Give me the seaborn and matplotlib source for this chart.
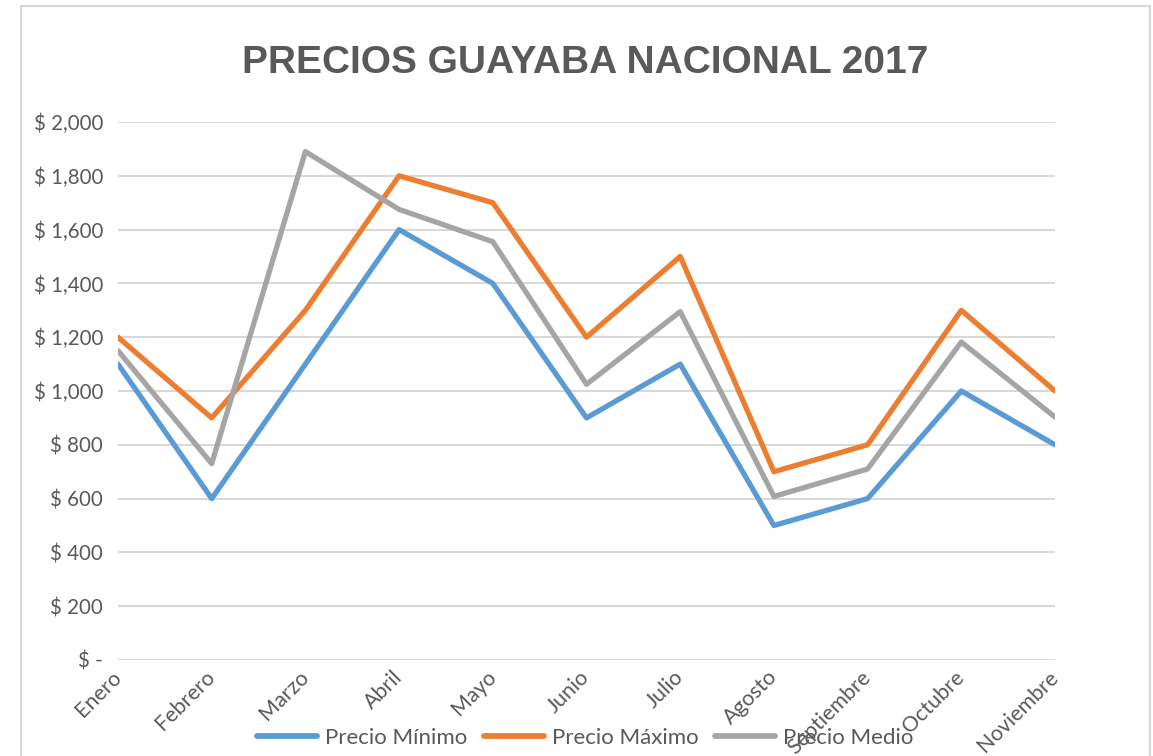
import matplotlib
matplotlib.use("Agg")
import matplotlib.pyplot as plt
import matplotlib.transforms as mtransforms
import seaborn as sns
import pandas as pd
from matplotlib.patches import Rectangle
from matplotlib.lines import Line2D
from matplotlib.ticker import FuncFormatter

meses = ["Enero", "Febrero", "Marzo", "Abril", "Mayo", "Junio", "Julio",
         "Agosto", "Septiembre", "Octubre", "Noviembre"]
precio_minimo = [1100, 600, 1100, 1600, 1400, 900, 1100, 500, 600, 1000, 800]
precio_maximo = [1200, 900, 1300, 1800, 1700, 1200, 1500, 700, 800, 1300, 1000]
precio_medio = [1150, 730, 1890, 1675, 1555, 1025, 1295, 608, 710, 1182, 903]
series_names = ["Precio Mínimo", "Precio Máximo", "Precio Medio"]
colors = ["#5B9BD5", "#ED7D31", "#A5A5A5"]
title = "PRECIOS GUAYABA NACIONAL 2017"

rows = []
for name, vals in zip(series_names, [precio_minimo, precio_maximo, precio_medio]):
    for i, (m, v) in enumerate(zip(meses, vals)):
        rows.append({"idx": i, "Mes": m, "Serie": name, "Precio": v})
df = pd.DataFrame(rows)

sns.set_style("white")
plt.rcParams["font.family"] = ["Lato", "DejaVu Sans"]

fig = plt.figure(figsize=(11.53, 7.56), dpi=100)
ax = fig.add_axes([118/1153, 1-660/756, (1055-118)/1153, (660-122)/756])

sns.lineplot(data=df, x="idx", y="Precio", hue="Serie", hue_order=series_names,
             palette=colors, linewidth=3.8, ax=ax, legend=False, sort=False)

ax.set_xlim(0, len(meses)-1)
ax.set_ylim(0, 2000)
ax.set_yticks(range(0, 2001, 200))
ax.yaxis.set_major_formatter(FuncFormatter(lambda v, p: "$ -" if v == 0 else f"$ {int(v):,}"))
ax.set_xticks(range(len(meses)))
ax.set_xticklabels(meses, rotation=45, ha="right", rotation_mode="anchor")
ax.tick_params(axis="both", length=0, colors="#595959")
ax.tick_params(axis="y", pad=10.8, labelsize=14.8)
ax.tick_params(axis="x", pad=5, labelsize=15.5)
offset = mtransforms.ScaledTranslation(-7/100, 0, fig.dpi_scale_trans)
for lbl in ax.get_xticklabels():
    lbl.set_transform(lbl.get_transform() + offset)
ax.set_xlabel("")
ax.set_ylabel("")
ax.grid(axis="y", color="#D9D9D9", linewidth=1.5)
ax.set_axisbelow(True)
for s in ax.spines.values():
    s.set_visible(False)

fig.text(585/1153, 1-63/756, title, ha="center", va="center",
         fontsize=28, fontweight="bold", color="#595959", family="Liberation Sans")

handles = [Line2D([0], [0], color=c, lw=4.2) for c in colors]
fig.legend(handles, series_names, loc="center", bbox_to_anchor=(585/1153, 1-738/756),
           ncol=3, frameon=False, fontsize=16, handlelength=2.7, handletextpad=0.35,
           columnspacing=0.75, labelcolor="#595959")

fig.add_artist(Rectangle((21/1153, -0.05), (1150-21)/1153, 1-6/756+0.05,
                         transform=fig.transFigure, fill=False,
                         edgecolor="#D9D9D9", linewidth=1.5))

fig.savefig("out.png", dpi=100)
